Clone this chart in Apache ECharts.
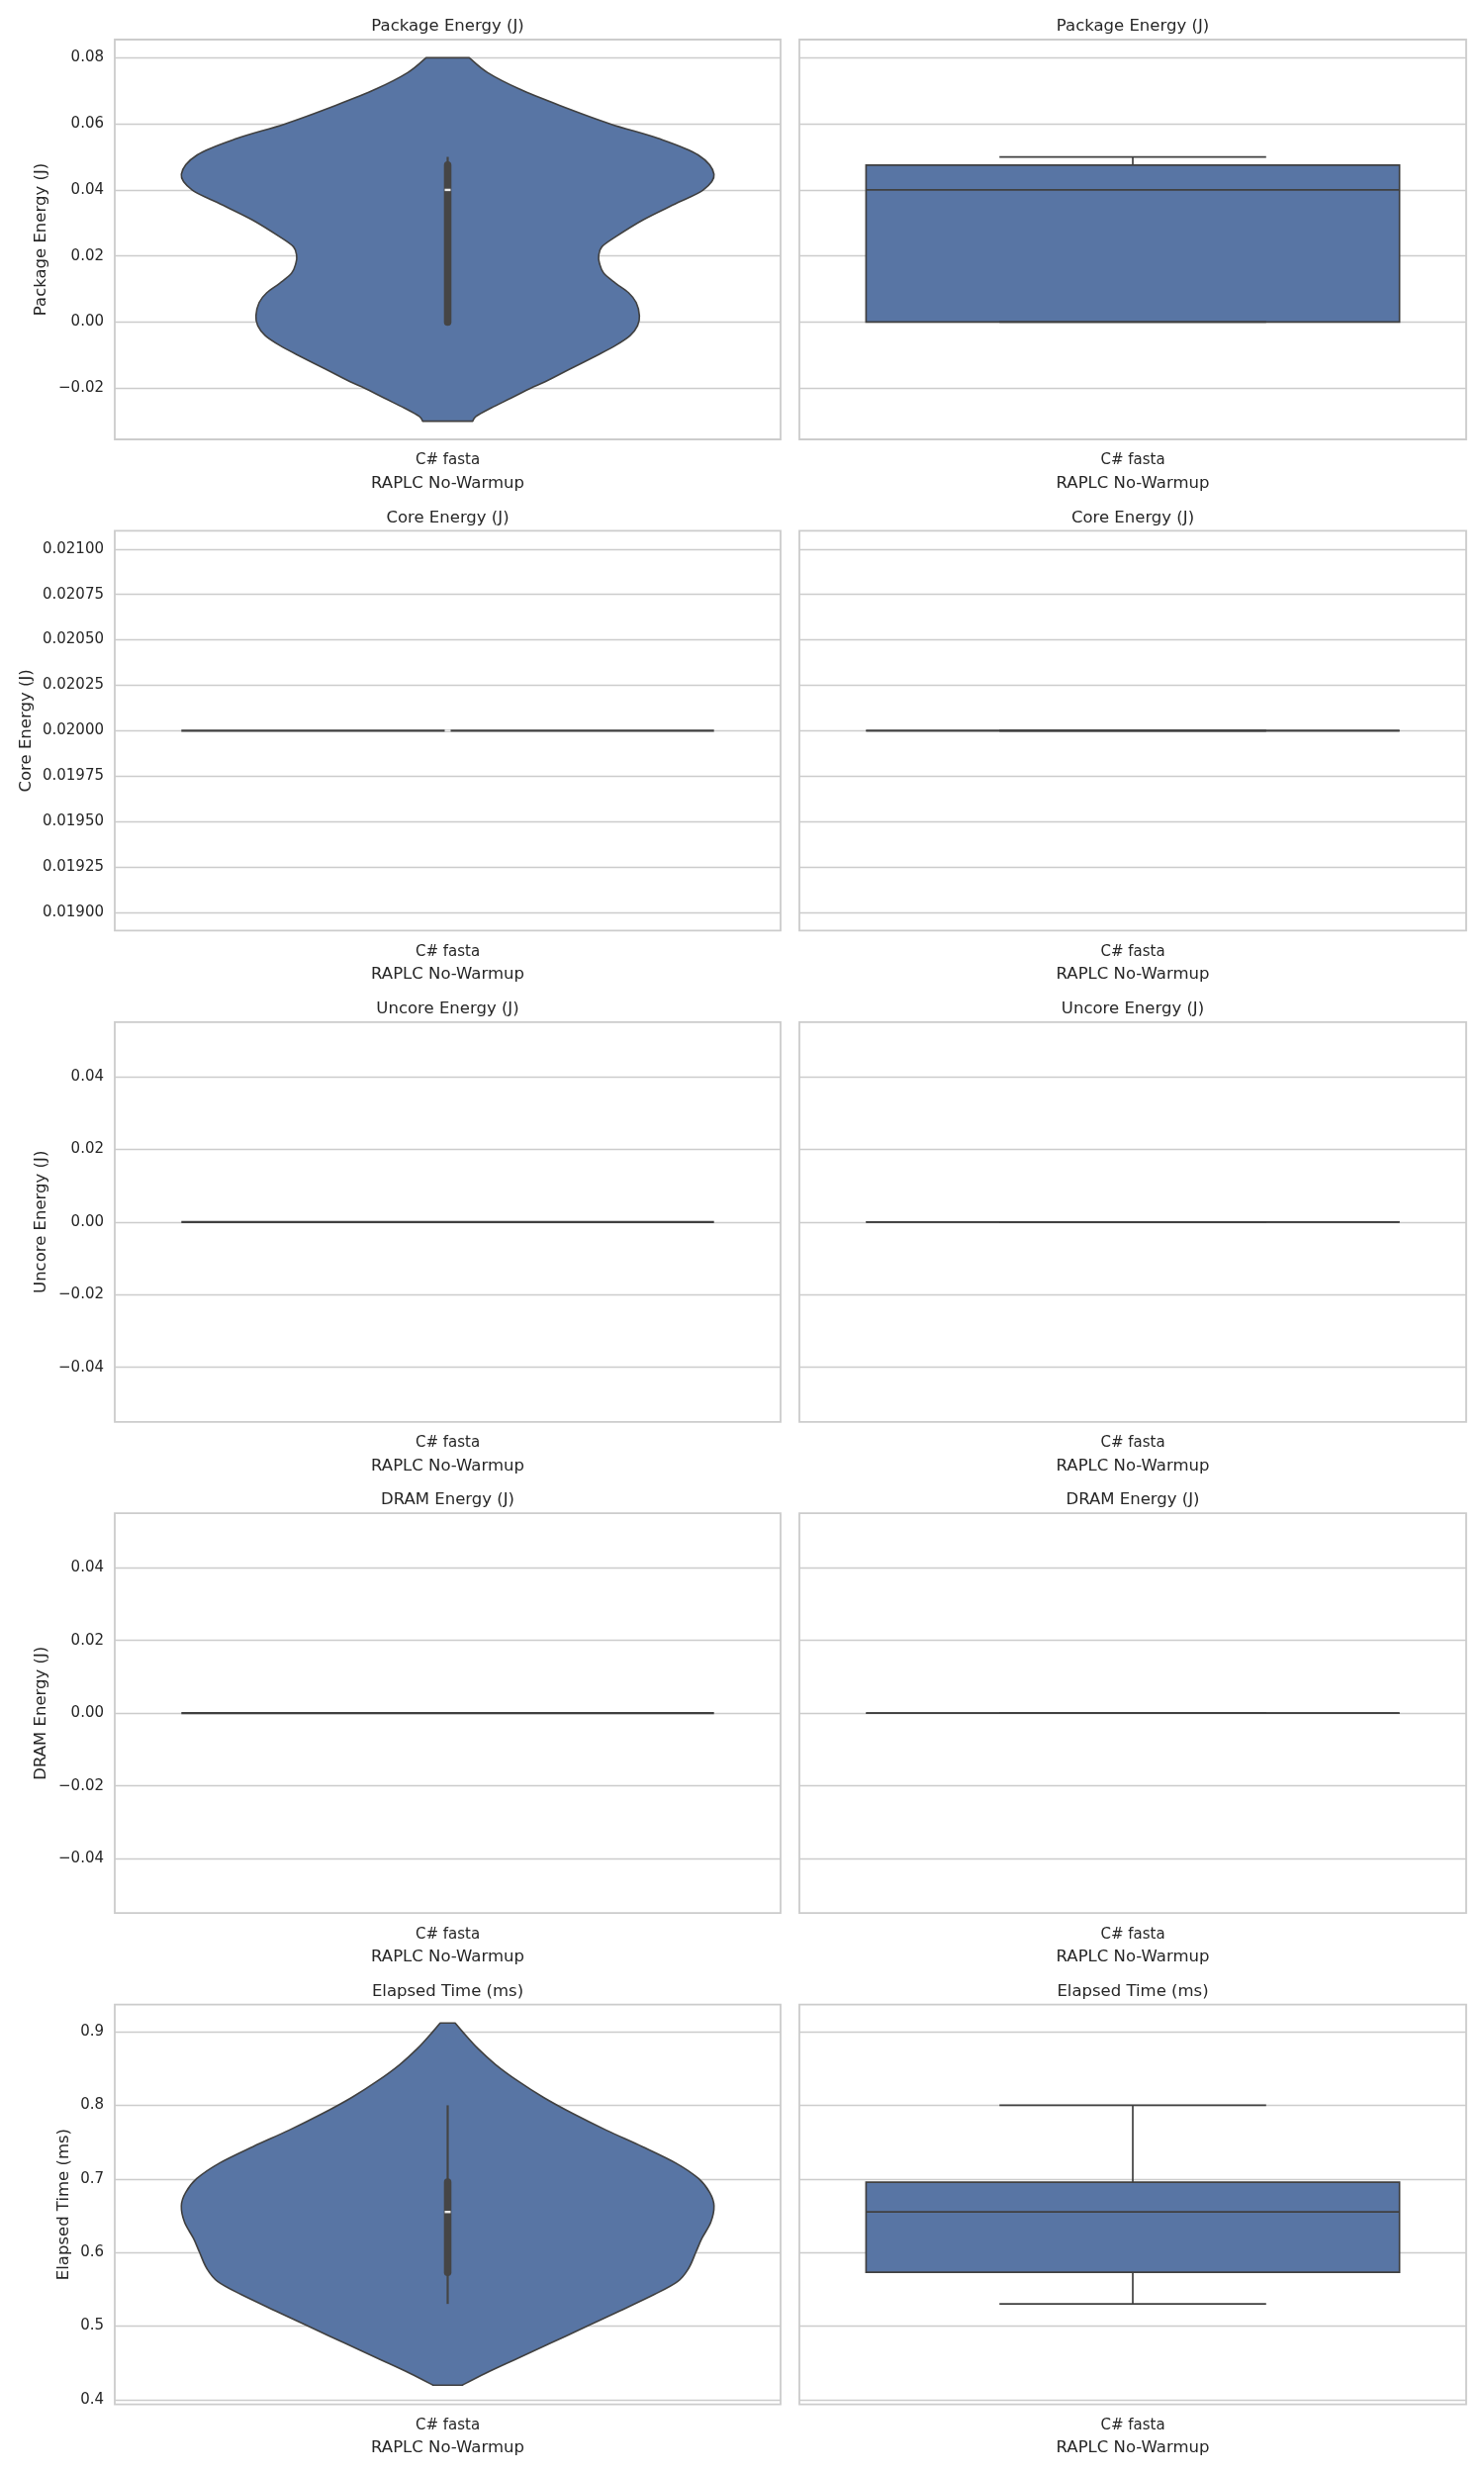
<!DOCTYPE html>
<html>
<head>
<meta charset="utf-8">
<script src="https://cdn.jsdelivr.net/npm/echarts@6/dist/echarts.min.js"></script>
<style>
  html, body { margin: 0; padding: 0; background: #ffffff; }
  #chart { width: 1500px; height: 2500px; }
</style>
</head>
<body>
<div id="chart"></div>
<script>
// ---------------- data ----------------
const categories = ['C# fasta'];
const groupLabel = 'RAPLC No-Warmup';
const metrics = ['Package Energy (J)', 'Core Energy (J)', 'Uncore Energy (J)', 'DRAM Energy (J)', 'Elapsed Time (ms)'];

// box statistics: [lower whisker, Q1, median, Q3, upper whisker]
const pkgBox    = [0.0, 0.0, 0.04, 0.0475, 0.05];
const coreBox   = [0.02, 0.02, 0.02, 0.02, 0.02];
const uncoreBox = [0.0, 0.0, 0.0, 0.0, 0.0];
const dramBox   = [0.0, 0.0, 0.0, 0.0, 0.0];
const timeBox   = [0.53, 0.573, 0.655, 0.6955, 0.80];

// violin density profiles (value, relative density)
const pkgViolinY = [-0.030, -0.0285, -0.026, -0.023, -0.020, -0.018, -0.0141, -0.0101, -0.0071, -0.0041, -0.0011, 0.0019, 0.0059, 0.0089, 0.0118, 0.0148, 0.0178, 0.020, 0.0228, 0.026, 0.031, 0.036, 0.040, 0.0447, 0.0506, 0.0556, 0.060, 0.0656, 0.0705, 0.0755, 0.080];
const pkgViolinD = [0.094, 0.107, 0.163, 0.238, 0.312, 0.368, 0.462, 0.560, 0.630, 0.685, 0.713, 0.720, 0.708, 0.679, 0.630, 0.586, 0.570, 0.567, 0.579, 0.634, 0.735, 0.860, 0.960, 1.000, 0.940, 0.790, 0.610, 0.420, 0.270, 0.150, 0.081];
const timeViolinY = [0.4196, 0.4357, 0.4536, 0.4759, 0.5009, 0.5205, 0.5429, 0.5607, 0.5786, 0.6004, 0.6188, 0.6411, 0.6634, 0.6813, 0.7004, 0.7214, 0.7438, 0.7661, 0.7884, 0.8107, 0.8330, 0.8554, 0.8777, 0.9000, 0.9120];
const timeViolinD = [0.055, 0.142, 0.248, 0.382, 0.530, 0.646, 0.776, 0.864, 0.905, 0.932, 0.954, 0.988, 1.000, 0.984, 0.942, 0.857, 0.731, 0.596, 0.472, 0.360, 0.264, 0.180, 0.112, 0.056, 0.028];

// y axis ranges and tick values
const pkgRange    = [-0.0355, 0.0855];
const coreRange   = [0.0189, 0.0211];
const uncoreRange = [-0.055, 0.055];
const dramRange   = [-0.055, 0.055];
const timeRange   = [0.3935, 0.937];
const pkgTicks    = [-0.02, 0.0, 0.02, 0.04, 0.06, 0.08];
const coreTicks   = [0.019, 0.01925, 0.0195, 0.01975, 0.02, 0.02025, 0.0205, 0.02075, 0.021];
const uncoreTicks = [-0.04, -0.02, 0.0, 0.02, 0.04];
const dramTicks   = [-0.04, -0.02, 0.0, 0.02, 0.04];
const timeTicks   = [0.4, 0.5, 0.6, 0.7, 0.8, 0.9];

// ---------------- styles / layout ----------------
const FONT = 'DejaVu Sans';
const TEXT = '#262626';
const FILL = '#5875a4';
const EDGE = '#404040';
const INNER = '#454545';
const GRIDC = '#cccccc';

const panels = [
  { title: metrics[0], box: pkgBox,    vy: pkgViolinY,  vd: pkgViolinD,  range: pkgRange,    ticks: pkgTicks,    dec: 2, nameGap: 66, medianMark: true },
  { title: metrics[1], box: coreBox,   vy: null,        vd: null,        range: coreRange,   ticks: coreTicks,   dec: 5, nameGap: 81, medianMark: true },
  { title: metrics[2], box: uncoreBox, vy: null,        vd: null,        range: uncoreRange, ticks: uncoreTicks, dec: 2, nameGap: 66, medianMark: false },
  { title: metrics[3], box: dramBox,   vy: null,        vd: null,        range: dramRange,   ticks: dramTicks,   dec: 2, nameGap: 66, medianMark: false },
  { title: metrics[4], box: timeBox,   vy: timeViolinY, vd: timeViolinD, range: timeRange,   ticks: timeTicks,   dec: 1, nameGap: 43, medianMark: true }
];

const COLS = [{ left: 116, width: 673 }, { left: 808, width: 674 }];
const ROW_TOP = 40, ROW_STEP = 496.4, ROW_H = 404;

function fmt(v, dec) {
  const s = Math.abs(v) < 1e-12 ? (0).toFixed(dec) : v.toFixed(dec);
  return s.replace('-', '\u2212');
}

function pt(p) { return p[0].toFixed(2) + ' ' + p[1].toFixed(2); }

// smooth curve (Catmull-Rom -> cubic Bezier) through screen points
function curveThrough(pts) {
  let d = '';
  for (let i = 0; i < pts.length - 1; i++) {
    const p0 = pts[i - 1] || pts[i], p1 = pts[i], p2 = pts[i + 1], p3 = pts[i + 2] || pts[i + 1];
    const c1 = [p1[0] + (p2[0] - p0[0]) / 6, p1[1] + (p2[1] - p0[1]) / 6];
    const c2 = [p2[0] - (p3[0] - p1[0]) / 6, p2[1] - (p3[1] - p1[1]) / 6];
    d += ' C ' + pt(c1) + ' ' + pt(c2) + ' ' + pt(p2);
  }
  return d;
}

function renderViolin(panel) {
  return function (params, api) {
    const band = api.size([1, 0])[0];
    const half = band * 0.4;
    const cx = api.coord([0, panel.box[2]])[0];
    const ch = [];
    if (panel.vy) {
      const L = [], R = [];
      panel.vy.forEach(function (v, i) {
        const y = api.coord([0, v])[1];
        L.push([cx - panel.vd[i] * half, y]);
        R.push([cx + panel.vd[i] * half, y]);
      });
      R.reverse();
      const d = 'M ' + pt(L[0]) + curveThrough(L) + ' L ' + pt(R[0]) + curveThrough(R) + ' Z';
      ch.push({ type: 'path', shape: { pathData: d },
        style: { fill: FILL, stroke: EDGE, lineWidth: 1.6, lineJoin: 'round' } });
      const yLo = api.coord([0, panel.box[0]])[1], yHi = api.coord([0, panel.box[4]])[1];
      const yQ1 = api.coord([0, panel.box[1]])[1], yQ3 = api.coord([0, panel.box[3]])[1];
      ch.push({ type: 'line', shape: { x1: cx, y1: yLo, x2: cx, y2: yHi }, style: { stroke: INNER, lineWidth: 2.2 } });
      ch.push({ type: 'line', shape: { x1: cx, y1: yQ1, x2: cx, y2: yQ3 }, style: { stroke: INNER, lineWidth: 7.6, lineCap: 'round' } });
    } else {
      const y = api.coord([0, panel.box[2]])[1];
      ch.push({ type: 'line', shape: { x1: cx - half, y1: y, x2: cx + half, y2: y }, style: { stroke: EDGE, lineWidth: 2.3 } });
    }
    if (panel.medianMark) {
      const ym = api.coord([0, panel.box[2]])[1];
      ch.push({ type: 'rect', shape: { x: cx - 3, y: ym - 1.2, width: 6, height: 2.4 }, style: { fill: '#eeeeee' } });
    }
    return { type: 'group', children: ch };
  };
}

function renderBox(panel) {
  return function (params, api) {
    const band = api.size([1, 0])[0];
    const bh = band * 0.4, cw = band * 0.2;
    const cx = api.coord([0, panel.box[2]])[0];
    const p = panel.box.map(function (v) { return api.coord([0, v])[1]; });
    const lo = p[0], q1 = p[1], med = p[2], q3 = p[3], hi = p[4];
    const ls = { stroke: EDGE, lineWidth: 1.7 };
    return { type: 'group', children: [
      { type: 'rect', shape: { x: cx - bh, y: q3, width: 2 * bh, height: q1 - q3 }, style: { fill: FILL, stroke: EDGE, lineWidth: 1.7 } },
      { type: 'line', shape: { x1: cx - bh, y1: med, x2: cx + bh, y2: med }, style: ls },
      { type: 'line', shape: { x1: cx, y1: q3, x2: cx, y2: hi }, style: ls },
      { type: 'line', shape: { x1: cx, y1: q1, x2: cx, y2: lo }, style: ls },
      { type: 'line', shape: { x1: cx - cw, y1: hi, x2: cx + cw, y2: hi }, style: ls },
      { type: 'line', shape: { x1: cx - cw, y1: lo, x2: cx + cw, y2: lo }, style: ls }
    ] };
  };
}

const grid = [], xAxis = [], yAxis = [], series = [], graphic = [];
panels.forEach(function (panel, r) {
  COLS.forEach(function (col, c) {
    const idx = r * 2 + c;
    const top = ROW_TOP + r * ROW_STEP;
    grid.push({ left: col.left, top: top, width: col.width, height: ROW_H, show: true,
      borderColor: GRIDC, borderWidth: 1.8, backgroundColor: 'transparent', containLabel: false });
    xAxis.push({ type: 'category', gridIndex: idx, data: categories,
      axisLine: { show: false }, axisTick: { show: false }, splitLine: { show: false },
      axisLabel: { fontFamily: FONT, fontSize: 15, color: TEXT, margin: 14 },
      name: groupLabel, nameLocation: 'middle', nameGap: 36,
      nameTextStyle: { fontFamily: FONT, fontSize: 16.5, color: TEXT } });
    yAxis.push({ type: 'value', gridIndex: idx, min: panel.range[0], max: panel.range[1],
      axisLine: { show: false },
      axisTick: { show: false, customValues: panel.ticks },
      axisLabel: { show: c === 0, customValues: panel.ticks, fontFamily: FONT, fontSize: 15, color: TEXT, margin: 11,
        formatter: function (v) { return fmt(v, panel.dec); } },
      splitLine: { show: true, lineStyle: { color: GRIDC, width: 1.4 } },
      name: c === 0 ? panel.title : '', nameLocation: 'middle', nameGap: panel.nameGap,
      nameTextStyle: { fontFamily: FONT, fontSize: 16.5, color: TEXT } });
    series.push({ type: 'custom', xAxisIndex: idx, yAxisIndex: idx, silent: true,
      data: [[0, panel.box[2]]],
      renderItem: c === 0 ? renderViolin(panel) : renderBox(panel) });
    graphic.push({ type: 'text', x: col.left + col.width / 2, y: 27 + r * ROW_STEP,
      style: { text: panel.title, font: '16.5px "' + FONT + '"', fill: TEXT,
        textAlign: 'center', textVerticalAlign: 'middle', align: 'center', verticalAlign: 'middle' } });
  });
});

const chart = echarts.init(document.getElementById('chart'), null, { renderer: 'canvas', width: 1500, height: 2500 });
chart.setOption({
  animation: false,
  backgroundColor: '#ffffff',
  grid: grid, xAxis: xAxis, yAxis: yAxis, series: series, graphic: graphic
});
</script>
</body>
</html>
